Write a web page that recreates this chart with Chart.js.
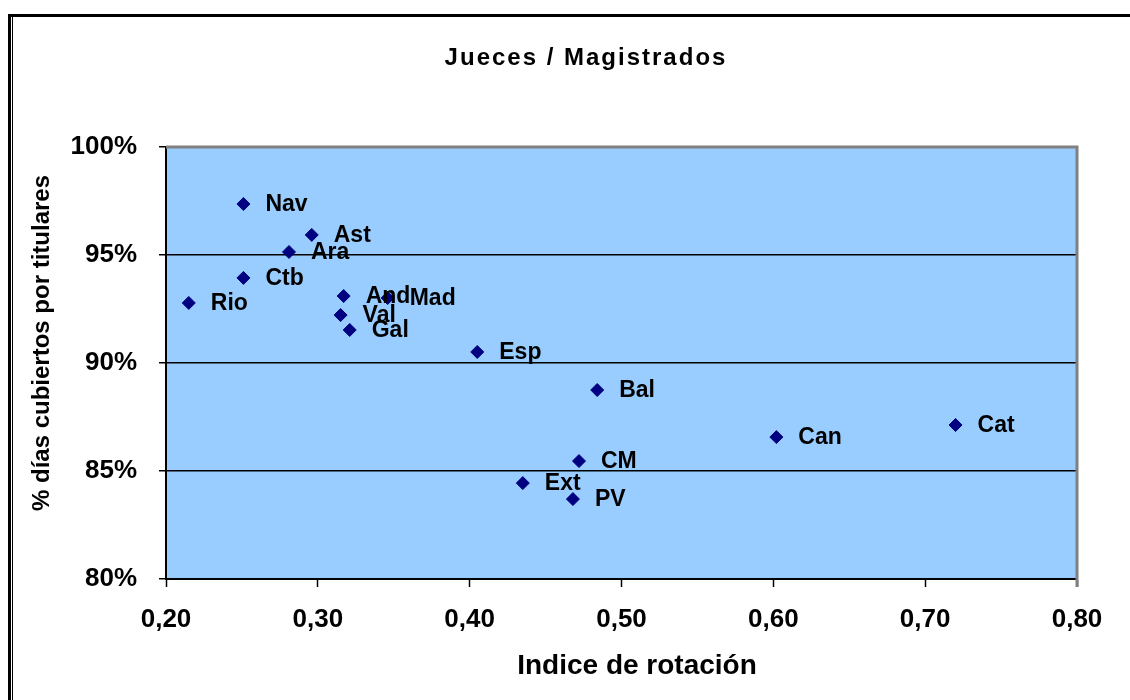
<!DOCTYPE html>
<html lang="es">
<head>
<meta charset="utf-8">
<title>Jueces / Magistrados</title>
<script src="https://cdn.jsdelivr.net/npm/chart.js@4.4.1/dist/chart.umd.min.js"></script>
<style>
  html, body { margin: 0; padding: 0; background: #fff; }
  #wrap { width: 1130px; height: 700px; }
</style>
</head>
<body>
<div id="wrap"><canvas id="chart" width="1130" height="700"></canvas></div>
<script>
// ================================
// Datos
// ================================
const regiones = ["Nav", "Ast", "Ara", "Ctb", "Rio", "And", "Mad", "Val", "Gal", "Esp", "Bal", "CM", "Ext", "PV", "Can", "Cat"];
const indiceRotacion = [0.251, 0.296, 0.281, 0.251, 0.215, 0.317, 0.346, 0.315, 0.321, 0.405, 0.484, 0.472, 0.435, 0.468, 0.602, 0.720];
const diasCubiertos = [97.36, 95.93, 95.14, 93.94, 92.78, 93.10, 93.01, 92.22, 91.53, 90.51, 88.75, 85.46, 84.44, 83.70, 86.57, 87.13];

const xTicks = [0.2, 0.3, 0.4, 0.5, 0.6, 0.7, 0.8];
const yTicks = [80, 85, 90, 95, 100];

const titulo = "Jueces / Magistrados";
const tituloX = "Indice de rotación";
const tituloY = "% días cubiertos por titulares";

const FONT = '"Liberation Sans", Arial, sans-serif';

// ================================
// Plugin: fondo, marco, textos y etiquetas
// ================================
const decoracion = {
  id: "decoracion",
  beforeDraw(chart) {
    const { ctx, chartArea: a } = chart;
    ctx.save();
    // fondo del área de trazado
    ctx.fillStyle = "#99ccff";
    ctx.fillRect(a.left, a.top, a.right - a.left, a.bottom - a.top);
    // marco exterior
    ctx.strokeStyle = "#000";
    ctx.lineWidth = 3;
    ctx.beginPath();
    ctx.moveTo(9.5, 710);
    ctx.lineTo(9.5, 15.5);
    ctx.lineTo(1140, 15.5);
    ctx.stroke();
    ctx.lineWidth = 1;
    ctx.beginPath();
    ctx.moveTo(12.5, 710);
    ctx.lineTo(12.5, 17);
    ctx.stroke();
    ctx.restore();
  },
  beforeDatasetsDraw(chart) {
    const { ctx, chartArea: a } = chart;
    ctx.save();
    ctx.strokeStyle = "#808080";
    ctx.lineWidth = 3;
    ctx.beginPath();
    ctx.moveTo(a.left, a.top);
    ctx.lineTo(a.right, a.top);
    ctx.lineTo(a.right, a.bottom + 8);
    ctx.stroke();
    ctx.restore();
  },
  afterDatasetsDraw(chart) {
    const { ctx } = chart;
    const meta = chart.getDatasetMeta(0);
    ctx.save();
    ctx.fillStyle = "#000";
    ctx.font = "bold 23px " + FONT;
    ctx.textAlign = "left";
    ctx.textBaseline = "middle";
    meta.data.forEach((pt, i) => {
      ctx.fillText(regiones[i], pt.x + 22, pt.y + 1);
    });
    ctx.restore();
  },
  afterDraw(chart) {
    const { ctx } = chart;
    ctx.save();
    ctx.fillStyle = "#000";
    ctx.textAlign = "center";
    ctx.textBaseline = "middle";
    // título
    ctx.font = "bold 24px " + FONT;
    ctx.letterSpacing = "2px";
    ctx.fillText(titulo, 586, 58);
    ctx.letterSpacing = "0px";
    // título eje X
    ctx.font = "bold 28px " + FONT;
    ctx.fillText(tituloX, 637, 666);
    // título eje Y
    ctx.translate(42, 343);
    ctx.rotate(-Math.PI / 2);
    ctx.font = "bold 24px " + FONT;
    ctx.fillText(tituloY, 0, 0);
    ctx.restore();
  }
};

// ================================
// Gráfico
// ================================
new Chart(document.getElementById("chart"), {
  type: "scatter",
  data: {
    datasets: [{
      label: tituloY,
      data: indiceRotacion.map((x, i) => ({ x, y: diasCubiertos[i] })),
      pointStyle: "rectRot",
      pointRadius: 6.5,
      pointHoverRadius: 6.5,
      backgroundColor: "#000080",
      borderColor: "#000080",
      borderWidth: 1
    }]
  },
  options: {
    responsive: false,
    animation: false,
    layout: { padding: { top: 147, right: 53, left: 0, bottom: 0 } },
    plugins: {
      legend: { display: false },
      title: { display: false },
      tooltip: { enabled: false }
    },
    scales: {
      x: {
        type: "linear",
        min: 0.2,
        max: 0.8,
        afterFit: s => { s.height = 121; },
        afterBuildTicks: s => { s.ticks = xTicks.map(v => ({ value: v })); },
        ticks: {
          color: "#000",
          font: { family: FONT, size: 26, weight: "bold" },
          padding: 17,
          maxRotation: 0,
          callback: v => v.toFixed(2).replace(".", ",")
        },
        grid: { drawOnChartArea: false, drawTicks: true, tickLength: 8, tickColor: "#000", tickWidth: 1.5 },
        border: { color: "#000", width: 2 }
      },
      y: {
        type: "linear",
        min: 80,
        max: 100,
        afterFit: s => { s.width = 166; },
        afterBuildTicks: s => { s.ticks = yTicks.map(v => ({ value: v })); },
        ticks: {
          color: "#000",
          font: { family: FONT, size: 26, weight: "bold" },
          padding: 22,
          callback: v => v + "%"
        },
        grid: {
          color: c => (c.tick && (c.tick.value === 80 || c.tick.value === 100)) ? "rgba(0,0,0,0)" : "#000",
          lineWidth: 1.5,
          drawTicks: true,
          tickLength: 7,
          tickColor: "#000",
          tickWidth: 1.5
        },
        border: { color: "#000", width: 2 }
      }
    }
  },
  plugins: [decoracion]
});
</script>
</body>
</html>
